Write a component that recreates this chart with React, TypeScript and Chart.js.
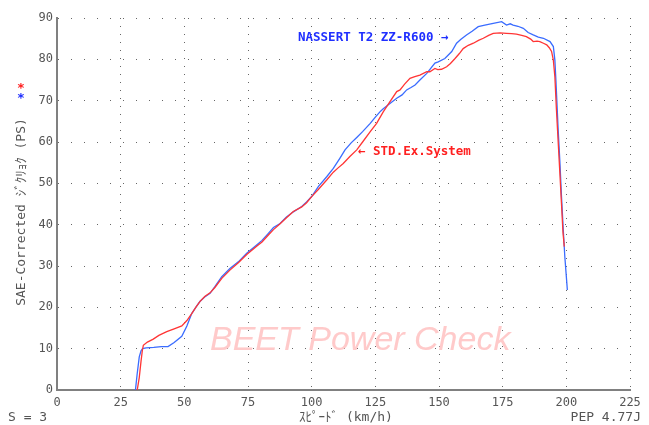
import React, { useEffect, useRef } from "react";
import { Chart, registerables } from "chart.js";

Chart.register(...registerables);

// ---- data ----
const speedMin = 0;
const speedMax = 225;
const speedStep = 25;
const powerMin = 0;
const powerMax = 90;
const powerStep = 10;

const blueSpeed = [30.8, 31.5, 32.3, 33.0, 33.6, 35, 38, 41, 43.6, 46, 49, 51, 52.9, 54.5, 56.1, 58, 60.1, 62, 64.7, 67.9, 71.2, 74.5, 78.4, 80.5, 83, 85, 87.6, 90, 92.8, 96.1, 98, 100, 102.6, 105.9, 108.5, 111, 113.1, 115.5, 117.7, 120, 123, 125, 126.8, 128, 130.1, 133.4, 135.5, 137.3, 139, 140.6, 142.5, 145.2, 148.4, 149.7, 152.3, 155, 156.9, 158.5, 160.8, 163, 165.4, 168, 171.3, 174.6, 176.5, 178, 179.1, 181, 183.1, 185, 187, 189, 191, 193.6, 194.9, 195.5, 195.9, 196.8, 197.5, 198.1, 198.8, 199.4, 200.4];
const bluePower = [0, 4, 8, 9.5, 10, 10.2, 10.3, 10.5, 10.5, 11.5, 13, 15.5, 18.5, 20, 21.4, 22.5, 23.4, 25, 27.4, 29.4, 31, 33.1, 35.1, 36.2, 37.9, 39.3, 40.3, 41.8, 43.1, 44.4, 45.5, 46.8, 49.2, 51.6, 53.6, 56, 58.1, 59.8, 61.1, 62.5, 64.5, 66, 67.3, 68, 69, 70.6, 71.4, 72.6, 73.2, 73.8, 75, 76.6, 79.1, 79.4, 80.2, 81.9, 83.9, 84.8, 85.9, 86.8, 87.9, 88.3, 88.7, 89.1, 88.3, 88.6, 88.3, 88, 87.5, 86.5, 85.9, 85.4, 85.1, 84.3, 83.1, 79.8, 75, 62.9, 54.8, 46.8, 38.7, 32.3, 24.2];

const redSpeed = [31.5, 32.3, 33.0, 33.5, 33.9, 35.5, 37.8, 40, 43.1, 46, 49, 51, 52.9, 54.5, 56.1, 58, 60.1, 62, 64.7, 67.9, 71.2, 74.5, 78.4, 80.5, 83, 85, 87.6, 90, 92.8, 96.1, 98, 100, 102.6, 105.9, 108.5, 110.5, 112.4, 115, 117.7, 120, 123, 125.5, 128.1, 130.5, 133.4, 134.7, 136.5, 138.6, 140.5, 142.5, 145.2, 146.4, 148.4, 149.5, 151, 153, 154.5, 156.3, 158, 159.5, 161.5, 163.5, 165.5, 167.4, 169.5, 171.3, 174, 176.5, 178.5, 180.4, 182.5, 184.3, 186, 187, 188.5, 189.6, 191, 192.3, 193.3, 194.2, 194.9, 195.5, 196.1, 196.8, 197.5, 198.1, 198.7, 199.2];
const redPower = [0, 3, 7, 9.5, 10.8, 11.6, 12.3, 13.2, 14.1, 14.8, 15.5, 16.8, 18.5, 20, 21.4, 22.6, 23.5, 24.8, 27, 29, 30.8, 32.8, 34.8, 35.8, 37.5, 38.8, 40.2, 41.6, 43.2, 44.3, 45.3, 46.8, 48.5, 50.8, 52.7, 53.8, 54.8, 56.5, 58.1, 60, 62.5, 64.5, 67.3, 69.5, 72.2, 72.6, 74, 75.4, 75.8, 76.2, 77, 77, 77.8, 77.5, 77.6, 78.2, 79, 80.2, 81.4, 82.6, 83.4, 83.9, 84.6, 85.1, 85.8, 86.3, 86.4, 86.3, 86.2, 86.1, 85.8, 85.5, 84.9, 84.3, 84.4, 84.3, 83.9, 83.5, 82.8, 81.9, 79.8, 75.8, 68, 60, 52, 45, 38, 34.7];

const blueLabel = "NASSERT T2 ZZ-R600 →";
const redLabel = "← STD.Ex.System";
const yTitle = "SAE-Corrected ｼﾞｸﾘｮｸ (PS)";
const xTitle = "ｽﾋﾟｰﾄﾞ (km/h)";
const leftNote = "S = 3";
const rightNote = "PEP 4.77J";
const watermark = "BEET Power Check";

const BLUE = "#3a6cff";
const RED = "#ff3535";
const MONO = '"DejaVu Sans Mono", "Noto Sans CJK JP", monospace';

const textPlugin = {
  id: "texts",
  beforeDraw(chart: any) {
    const { ctx } = chart;
    ctx.save();
    ctx.fillStyle = "#ffffff";
    ctx.fillRect(0, 0, chart.width, chart.height);
    ctx.restore();
  },
  beforeDatasetsDraw(chart: any) {
    const { ctx } = chart;
    ctx.save();
    ctx.font = 'italic 34px "Liberation Sans", Arial, sans-serif';
    ctx.fillStyle = "#ffcaca";
    ctx.textAlign = "left";
    ctx.textBaseline = "alphabetic";
    ctx.fillText(watermark, 210, 350);
    ctx.restore();
  },
  afterDraw(chart: any) {
    const { ctx } = chart;
    ctx.save();
    ctx.textBaseline = "middle";

    // annotations
    ctx.font = "bold 12.5px " + MONO;
    ctx.fillStyle = "#1f2fff";
    ctx.textAlign = "left";
    ctx.fillText(blueLabel, 298, 38);
    ctx.fillStyle = "#ff2020";
    ctx.fillText(redLabel, 358, 152);

    // asterisks
    ctx.font = "bold 13px " + MONO;
    ctx.textAlign = "center";
    ctx.fillStyle = "#ff2020";
    ctx.fillText("*", 21, 89);
    ctx.fillStyle = "#1f2fff";
    ctx.fillText("*", 21, 99);

    // bottom notes
    ctx.font = "13px " + MONO;
    ctx.fillStyle = "#555555";
    ctx.textAlign = "left";
    ctx.fillText(leftNote, 8, 418);
    ctx.textAlign = "center";
    ctx.fillText(xTitle, 346, 418);
    ctx.textAlign = "right";
    ctx.fillText(rightNote, 641, 418);

    // y title
    ctx.translate(22, 212);
    ctx.rotate(-Math.PI / 2);
    ctx.textAlign = "center";
    ctx.fillText(yTitle, 0, 0);
    ctx.restore();
  },
};

export default function App() {
  const ref = useRef<HTMLCanvasElement | null>(null);

  useEffect(() => {
    document.body.style.margin = "0";
    const canvas = ref.current;
    if (!canvas) return;
    const chart = new Chart(canvas, {
      type: "scatter",
      data: {
        datasets: [
          {
            label: "STD.Ex.System",
            data: redSpeed.map((s, i) => ({ x: s, y: redPower[i] })),
            showLine: true,
            borderColor: RED,
            backgroundColor: RED,
            borderWidth: 1.3,
            pointRadius: 0,
            tension: 0,
          },
          {
            label: "NASSERT T2 ZZ-R600",
            data: blueSpeed.map((s, i) => ({ x: s, y: bluePower[i] })),
            showLine: true,
            borderColor: BLUE,
            backgroundColor: BLUE,
            borderWidth: 1.3,
            pointRadius: 0,
            tension: 0,
          },
        ],
      },
      options: {
        responsive: false,
        animation: false,
        events: [],
        layout: { padding: { top: 18, right: 19, left: 0, bottom: 0 } },
        plugins: {
          legend: { display: false },
          tooltip: { enabled: false },
          title: { display: false },
        },
        scales: {
          x: {
            type: "linear",
            min: speedMin,
            max: speedMax,
            ticks: {
              stepSize: speedStep,
              color: "#555555",
              font: { family: MONO, size: 12 },
              padding: 6,
              maxRotation: 0,
            },
            grid: { color: "#666666", lineWidth: 1, drawTicks: false },
            border: { display: true, color: "#808080", width: 2, dash: [1, 7] },
            afterFit: (scale: any) => {
              scale.height = 35;
            },
          },
          y: {
            type: "linear",
            min: powerMin,
            max: powerMax,
            ticks: {
              stepSize: powerStep,
              color: "#555555",
              font: { family: MONO, size: 12 },
              padding: 4,
            },
            grid: { color: "#666666", lineWidth: 1, drawTicks: false },
            border: { display: true, color: "#808080", width: 2, dash: [1, 12] },
            afterFit: (scale: any) => {
              scale.width = 57;
            },
          },
        },
      },
      plugins: [textPlugin],
    } as any);
    return () => chart.destroy();
  }, []);

  return (
    <div style={{ width: 649, height: 425 }}>
      <canvas ref={ref} width={649} height={425} style={{ display: "block" }} />
    </div>
  );
}
